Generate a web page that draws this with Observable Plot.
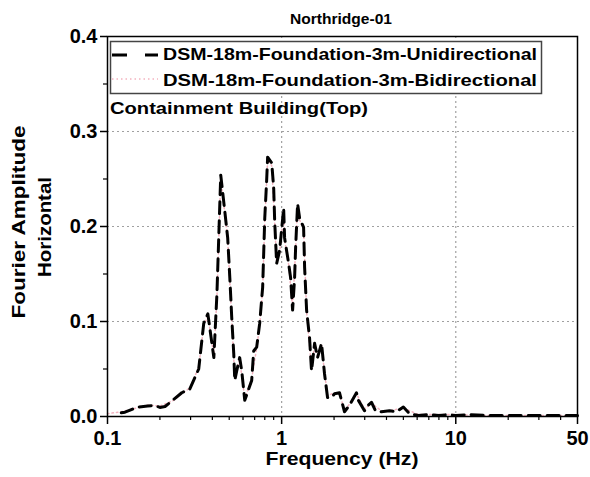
<!DOCTYPE html>
<html><head><meta charset="utf-8">
<script src="https://cdn.jsdelivr.net/npm/d3@7"></script>
<script src="https://cdn.jsdelivr.net/npm/@observablehq/plot@0.6"></script>
<style>body{margin:0;background:#fff} #chart{position:relative;width:590px;height:477px}</style>
</head><body><div id="chart"></div>
<script>
const titleText = "Northridge-01";
const seriesNames = ["DSM-18m-Foundation-3m-Unidirectional", "DSM-18m-Foundation-3m-Bidirectional"];
const noteText = "Containment Building(Top)";
const yLabelLines = ["Fourier Amplitude", "Horizontal"];
const xLabelText = "Frequency (Hz)";

const xMajorTicks = [0.1, 1, 10, 50];
const xTickLabels = ["0.1", "1", "10", "50"];
const xMinorTicks = [0.2,0.3,0.4,0.5,0.6,0.7,0.8,0.9,2,3,4,5,6,7,8,9,20,30,40];
const yMajorTicks = [0, 0.1, 0.2, 0.3, 0.4];
const yMinorTicks = [0.05, 0.15, 0.25, 0.35];
const xGrid = [1, 10];
const yGrid = [0.1, 0.2, 0.3];

const freqUni = [0.12,0.126,0.148,0.17,0.187,0.2,0.214,0.24,0.267,0.297,
  0.334,0.357,0.377,0.408,0.425,0.447,0.471,0.49,0.504,0.517,
  0.531,0.538,0.552,0.574,0.59,0.614,0.673,0.691,0.719,0.748,
  0.778,0.8,0.82,0.831,0.877,0.9,0.912,0.936,0.974,1.027,
  1.04,1.097,1.126,1.156,1.187,1.203,1.235,1.268,1.337,1.355,
  1.391,1.446,1.485,1.546,1.608,1.694,1.763,1.835,1.934,2.013,
  2.149,2.296,2.454,2.69,2.76,2.99,3.15,3.28,3.46,3.74,
  4.16,4.56,5.0,5.42,6.1,7,8,9,10,12,15,20,25,30,40,50];
const ampUni = [0.004,0.0045,0.0098,0.011,0.0116,0.0095,0.0105,0.018,0.025,0.029,
  0.05,0.098,0.108,0.062,0.129,0.254,0.217,0.188,0.146,0.104,
  0.066,0.038,0.048,0.062,0.048,0.017,0.038,0.069,0.073,0.098,
  0.136,0.209,0.248,0.273,0.267,0.241,0.206,0.161,0.175,0.219,
  0.188,0.161,0.146,0.112,0.146,0.178,0.224,0.209,0.199,0.157,
  0.112,0.083,0.048,0.077,0.062,0.077,0.045,0.020,0.020,0.024,
  0.025,0.005,0.012,0.025,0.017,0.006,0.012,0.015,0.006,0.005,
  0.006,0.005,0.010,0.003,0.001,0.002,0.001,0.002,0.001,0.002,0.001,0.001,0.001,0.001,0.001,0.001];

const freqBi = [0.1,0.12,0.148,0.17,0.2,0.24,0.267,0.297,
  0.334,0.357,0.377,0.408,0.425,0.447,0.471,0.49,0.517,
  0.538,0.552,0.574,0.614,0.673,0.719,0.748,
  0.778,0.8,0.831,0.877,0.912,0.936,0.974,1.027,
  1.04,1.097,1.156,1.203,1.235,1.268,1.337,
  1.391,1.485,1.546,1.608,1.694,1.763,1.835,2.013,
  2.149,2.296,2.454,2.69,2.99,3.28,3.74,
  4.16,5.0,6.1,8,10,15,20,30,50];
const ampBi = [0.003,0.005,0.009,0.012,0.011,0.017,0.024,0.03,
  0.052,0.096,0.106,0.064,0.125,0.25,0.215,0.186,0.102,
  0.04,0.05,0.06,0.019,0.04,0.072,0.096,
  0.133,0.205,0.27,0.264,0.204,0.162,0.172,0.216,
  0.186,0.16,0.114,0.176,0.222,0.207,0.197,
  0.11,0.05,0.075,0.063,0.075,0.046,0.022,0.025,
  0.024,0.007,0.013,0.024,0.008,0.014,0.006,
  0.006,0.009,0.002,0.002,0.002,0.001,0.001,0.001,0.001];

const uni = freqUni.map((f, i) => ({f, a: ampUni[i]}));
const bi = freqBi.map((f, i) => ({f, a: ampBi[i]}));
const xLab = xMajorTicks.map((v, i) => ({v, t: xTickLabels[i]}));

const FONT = "'Liberation Sans', Arial, Helvetica, sans-serif";
const PINK = "#f3b3bf";

const svg = Plot.plot({
  width: 590, height: 477,
  marginLeft: 107, marginRight: 13, marginTop: 36, marginBottom: 61,
  style: {fontFamily: FONT, fontWeight: "bold", fontSize: "20px", color: "black", background: "white", overflow: "visible"},
  x: {type: "log", domain: [0.1, 50]},
  y: {domain: [0, 0.4]},
  marks: [
    Plot.ruleX(xGrid, {stroke: "#a0a0a0", strokeWidth: 1.2, strokeDasharray: "2,3"}),
    Plot.ruleY(yGrid, {stroke: "#a0a0a0", strokeWidth: 1.2, strokeDasharray: "2,3"}),
    Plot.line(bi, {x: "f", y: "a", stroke: PINK, strokeWidth: 1.5, strokeDasharray: "1.5,3"}),
    Plot.line(uni, {x: "f", y: "a", stroke: "black", strokeWidth: 3, strokeDasharray: "12,7"}),
    Plot.axisX({ticks: xMajorTicks, tickSize: 8, strokeWidth: 1.5, tickFormat: () => "", label: null}),
    Plot.axisX({ticks: xMinorTicks, tickSize: 4, strokeWidth: 1.2, tickFormat: () => "", label: null}),
    Plot.text(xLab, {x: "v", text: "t", frameAnchor: "bottom", lineAnchor: "top", dy: 14, fontSize: 20, fontWeight: "bold", fill: "black"}),
    Plot.axisY({ticks: yMajorTicks, tickSize: 7, tickPadding: 3, strokeWidth: 1.5, tickFormat: d3.format(".1f"), label: null, fontSize: 20}),
    Plot.axisY({ticks: yMinorTicks, tickSize: 4, strokeWidth: 1.2, tickFormat: () => "", label: null}),
    Plot.frame({stroke: "black", strokeWidth: 1.5})
  ]
});
document.getElementById("chart").appendChild(svg);

const s = d3.select(svg);
function addText(txt, x, y, size, len, anchor, rotate) {
  const t = s.append("text")
    .attr("x", x).attr("y", y)
    .attr("font-family", FONT).attr("font-weight", "bold")
    .attr("font-size", size).attr("fill", "black")
    .attr("text-anchor", anchor || "start")
    .text(txt);
  if (len) t.attr("textLength", len).attr("lengthAdjust", "spacingAndGlyphs");
  if (rotate) t.attr("transform", `rotate(${rotate},${x},${y})`);
  return t;
}

// title
addText(titleText, 341, 24, 15, 102, "middle");
// legend box
s.append("rect").attr("x", 110.5).attr("y", 41.5).attr("width", 431).attr("height", 52)
  .attr("fill", "white").attr("stroke", "#444").attr("stroke-width", 1.5);
s.append("line").attr("x1", 112).attr("x2", 158).attr("y1", 55).attr("y2", 55)
  .attr("stroke", "black").attr("stroke-width", 3).attr("stroke-dasharray", "15,18");
s.append("line").attr("x1", 112).attr("x2", 158).attr("y1", 79).attr("y2", 79)
  .attr("stroke", PINK).attr("stroke-width", 1.5).attr("stroke-dasharray", "1.5,3");
addText(seriesNames[0], 163, 60, 16.5, 374);
addText(seriesNames[1], 163, 85.5, 16.5, 374);
// note
addText(noteText, 110, 114, 16.5, 258);
// y label
addText(yLabelLines[0], 25, 222, 19, 193, "middle", -90);
addText(yLabelLines[1], 51, 227, 19, 100, "middle", -90);
// x label
addText(xLabelText, 342, 465, 19, 153, "middle");
</script>
</body></html>
